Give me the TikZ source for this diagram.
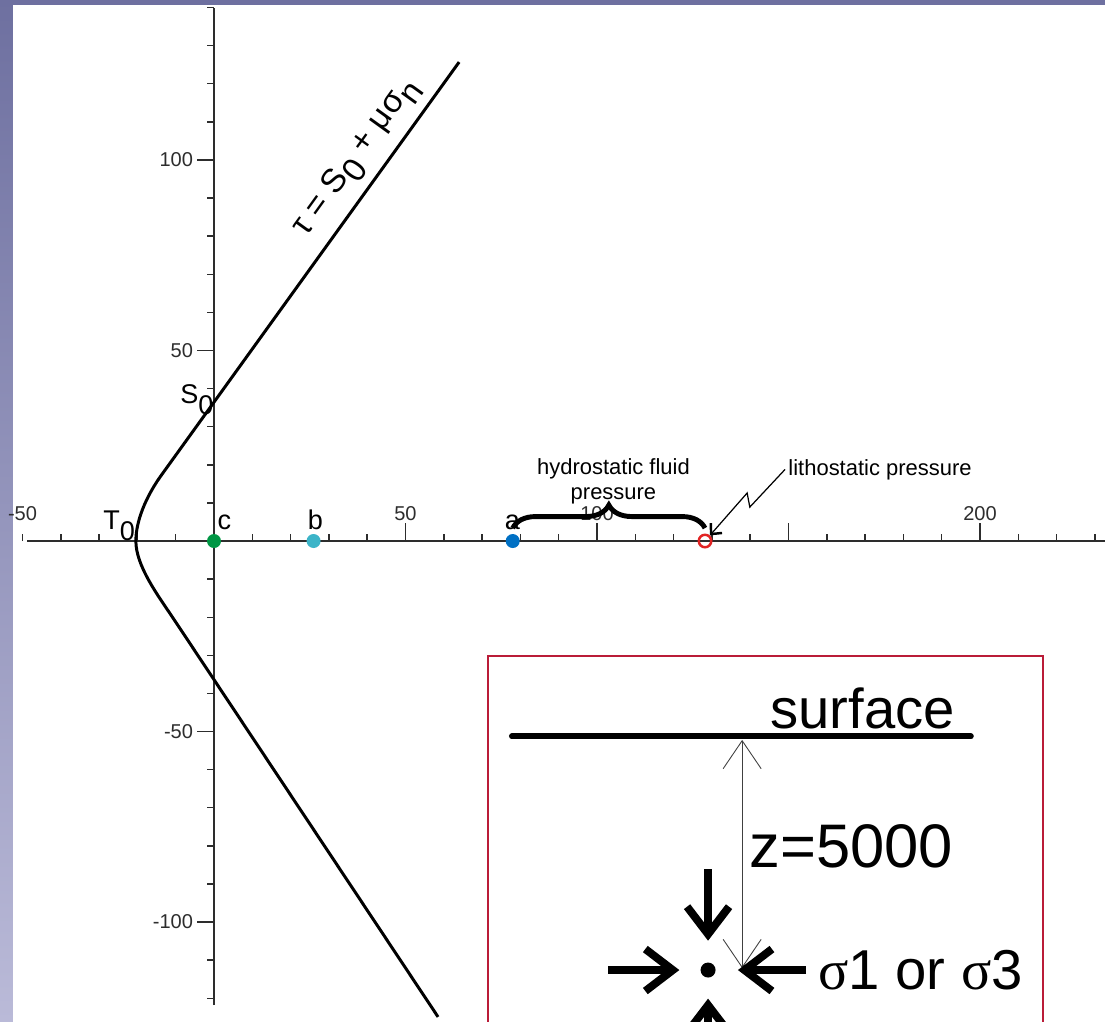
\documentclass[tikz,border=0pt]{standalone}
\usepackage{fontspec}
\setmainfont{Liberation Sans}
\newfontfamily\symfont{Liberation Serif}
\usepackage{tikz}
\usetikzlibrary{arrows.meta,decorations.pathreplacing,calc}
\definecolor{bandtop}{RGB}{110,112,160}
\definecolor{bandbot}{RGB}{186,186,216}
\definecolor{axisgray}{RGB}{45,45,45}
\definecolor{ptgreen}{RGB}{0,150,68}
\definecolor{ptteal}{RGB}{60,180,200}
\definecolor{ptblue}{RGB}{0,112,196}
\definecolor{ptred}{RGB}{226,36,36}
\definecolor{boxred}{RGB}{186,28,56}
\tikzset{
  axisline/.style={axisgray,line width=0.8pt},
  ticknum/.style={font=\fontsize{11.4}{13}\selectfont,text=axisgray,inner sep=0pt},
  ptlabel/.style={font=\fontsize{15.4}{18}\selectfont,inner sep=0pt,anchor=base},
  smalltext/.style={font=\fontsize{12.5}{14.2}\selectfont,inner sep=0pt},
  dot/.style={circle,inner sep=0pt,minimum size=0.28cm},
  bigarrow/.style={line width=4.5pt,-{Straight Barb[length=0.55cm,width=0.84cm]}},
  thinhead/.tip={Straight Barb[length=0.56cm,width=0.76cm]},
}

\begin{document}
\begin{tikzpicture}[x=0.0766cm,y=0.0762cm]
        \clip (-55.875,-125.98) rectangle (232.64,141.995);
        % page and side bands
        \fill[white] (-55.875,-125.98) rectangle (232.64,141.995);
        \shade[top color=bandtop,bottom color=bandbot] (-55.875,-125.98) rectangle (-52.48,141.995);
        \fill[bandtop] (-55.875,140.68) rectangle (232.64,141.995);
        % axes and ticks
        \draw[axisline] (-48.8,0)--(232.64,0);
        \draw[axisline] (0,-121.8)--(0,140);
        \foreach \u in {-50,-40,...,230} \draw[axisline] (\u,0)--(\u,1.9);
        \foreach \u in {50,100,150,200} \draw[axisline] (\u,0)--(\u,4.7);
        \foreach \u in {-50,50,100,200} \node[ticknum,anchor=south] at (\u,5.2){\u};
        \foreach \v in {-120,-110,...,140} \draw[axisline] (0,\v)--(-1.85,\v);
        \foreach \v in {-100,-50,50,100}{
          \draw[axisline] (0,\v)--(-4.45,\v);
          \node[ticknum,anchor=east] at (-5.4,\v){\v};
        }
        % failure envelope
        \draw[line width=1.7pt,line join=round] (64,125.7)--(-13.3,17.9)
          .. controls (-18,11.5) and (-20.4,5) .. (-20.4,0)
          .. controls (-20.4,-6.5) and (-14.7,-14.2) .. (-10.7,-20.2)--(58.5,-124.9);
        \node[font=\fontsize{19}{22}\selectfont,rotate=54.2,anchor=base,inner sep=0pt] (law) at (38.6,99.6)
          {τ = S\lower6pt\hbox{0} + μσ\lower6pt\hbox{n}};
        \node[ptlabel,anchor=base west] (tzero) at (-29,2.9){T\lower6pt\hbox{0}};
        \node[ptlabel,anchor=base west] (szero) at (-8.9,36){S\lower6pt\hbox{0}};
        % stress states
        \node[dot,fill=ptgreen] (ptc) at (0,0){};
        \node[dot,fill=ptteal] (ptb) at (26,0){};
        \node[dot,fill=ptblue] (pta) at (78,0){};
        \node[dot,draw=ptred,line width=1.4pt,minimum size=0.25cm] (ptlith) at (128.2,0){};
        \node[ptlabel] at (2.7,2.9){c};
        \node[ptlabel] at (26.5,2.9){b};
        \node[ptlabel] at (77.9,2.9){a};
        \draw[line width=2.8pt,decorate,decoration={brace,amplitude=0.46cm}]
          ($(pta)+(0,3.4)$)--($(ptlith)+(0,3.4)$);
        \node[smalltext,align=center,anchor=north] (hydro) at (104.3,21.8){hydrostatic fluid\\pressure};
        \node[smalltext,anchor=base west] (lith) at (149.9,17.3){lithostatic pressure};
        \draw[line width=0.7pt,-{Straight Barb[length=0.16cm,width=0.3cm,line width=1.4pt]}]
          ($(lith.west)+(-0.8,0)$)--(139.9,8.9)--(139.2,12.6)--(ptlith);
        % depth sketch
        \draw[boxred,line width=1.1pt] (71.5,-132)rectangle(216.4,-30.2);
        \draw[line width=3.4pt,line cap=round] (77.8,-51.3)--(197.6,-51.3);
        \node[font=\fontsize{32}{38}\selectfont,anchor=base east,inner sep=0pt] (surface) at (193.5,-49.1){surface};
        \node[dot,fill=black,minimum size=0.3cm] (pt) at (129,-112.6){};
        \coordinate (ztop) at (137.9,-52.2);
        \coordinate (zbot) at (137.9,-112.1);
        \draw[black!75,line width=0.5pt,{thinhead}-{thinhead}] (ztop)--(zbot);
        \node[font=\fontsize{35}{42}\selectfont,anchor=base west,inner sep=0pt] (depth) at (139.7,-85.6){z=5000};
        \draw[bigarrow] ($(pt)+(0,26.5)$)--($(pt)+(0,7.7)$);
        \draw[bigarrow] ($(pt)+(0,-30)$)--($(pt)+(0,-7.5)$);
        \draw[bigarrow] ($(pt)+(-26,0)$)--($(pt)+(-7.5,0)$);
        \draw[bigarrow] ($(pt)+(25.6,0)$)--($(pt)+(7.8,0)$);
        \node[font=\fontsize{32}{38}\selectfont,anchor=base west,inner sep=0pt] (sigma) at (157.7,-117.8)
          {{\symfont σ}1 or {\symfont σ}3};
      \end{tikzpicture}
\end{document}
